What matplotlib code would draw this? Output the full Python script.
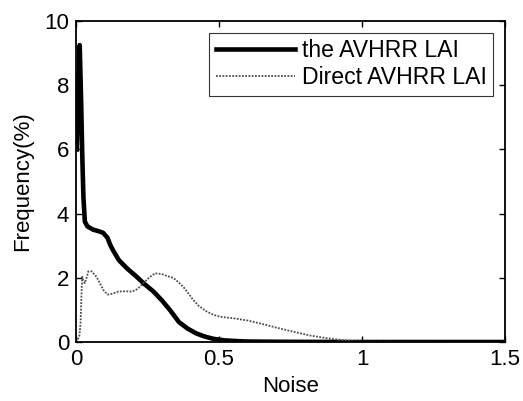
import numpy as np
import matplotlib
matplotlib.use("Agg")
import matplotlib.pyplot as plt

plt.rcParams["font.family"] = ["Liberation Sans", "DejaVu Sans"]

# Noise vs frequency (%)
noise_thick = [0.003, 0.008, 0.013, 0.018, 0.022, 0.026, 0.031, 0.04, 0.06, 0.08,
               0.095, 0.11, 0.12, 0.13, 0.15, 0.18, 0.21, 0.24, 0.27, 0.30,
               0.33, 0.36, 0.39, 0.42, 0.45, 0.48, 0.52, 0.56, 0.60, 0.70,
               0.80, 1.0, 1.5]
freq_thick = [6.0, 8.0, 9.25, 7.5, 5.8, 4.5, 3.75, 3.6, 3.5, 3.45,
              3.4, 3.25, 3.02, 2.85, 2.55, 2.28, 2.05, 1.80, 1.58, 1.30,
              0.98, 0.62, 0.42, 0.27, 0.17, 0.10, 0.05, 0.03, 0.015, 0.008,
              0.004, 0.0, 0.0]

noise_direct = [0.0, 0.005, 0.012, 0.016, 0.02, 0.022, 0.026, 0.031, 0.037, 0.043,
                0.055, 0.072, 0.085, 0.096, 0.11, 0.125, 0.148, 0.17, 0.195, 0.215,
                0.235, 0.255, 0.276, 0.30, 0.32, 0.34, 0.36, 0.375, 0.39, 0.41,
                0.43, 0.457, 0.48, 0.503, 0.53, 0.55, 0.60, 0.643, 0.70, 0.76,
                0.82, 0.876, 0.92, 0.958, 1.0, 1.5]
freq_direct = [0.0, 0.05, 0.2, 0.6, 1.7, 2.03, 1.9, 1.83, 2.0, 2.2,
               2.2, 2.03, 1.8, 1.62, 1.48, 1.5, 1.57, 1.58, 1.57, 1.65,
               1.83, 2.0, 2.14, 2.12, 2.05, 2.0, 1.85, 1.72, 1.55, 1.31,
               1.12, 0.95, 0.85, 0.79, 0.76, 0.74, 0.67, 0.58, 0.45, 0.32,
               0.2, 0.12, 0.07, 0.03, 0.01, 0.0]

xticks = [0, 0.5, 1, 1.5]
xtick_labels = ["0", "0.5", "1", "1.5"]
yticks = [0, 2, 4, 6, 8, 10]

fig = plt.figure(figsize=(5.23, 4.01), dpi=100)
ax = fig.add_axes([0.1453, 0.1471, 0.8203, 0.8005])

ax.plot(noise_thick, freq_thick, color="black", linewidth=3.3,
        solid_joinstyle="round", label="the AVHRR LAI")
ax.plot(noise_direct, freq_direct, color="0.3", linewidth=1.3,
        linestyle=(0, (1, 0.8)), label="Direct AVHRR LAI")

ax.set_xlim(0, 1.5)
ax.set_ylim(0, 10)
ax.set_xticks(xticks)
ax.set_xticklabels(xtick_labels)
ax.set_yticks(yticks)
ax.tick_params(direction="in", top=True, right=True, length=4, width=1.0,
               labelsize=16, pad=5)
for s in ax.spines.values():
    s.set_linewidth(1.3)

ax.set_xlabel("Noise", fontsize=16, labelpad=4)
ax.set_ylabel("Frequency(%)", fontsize=16, labelpad=8)

leg = ax.legend(loc="upper right", fontsize=16.6, frameon=True, fancybox=False,
                edgecolor="black", handlelength=3.4, handletextpad=0.3,
                borderpad=0.3, labelspacing=0.15, borderaxespad=0.5)
leg.get_frame().set_linewidth(0.8)

fig.savefig("out.png", dpi=100)
